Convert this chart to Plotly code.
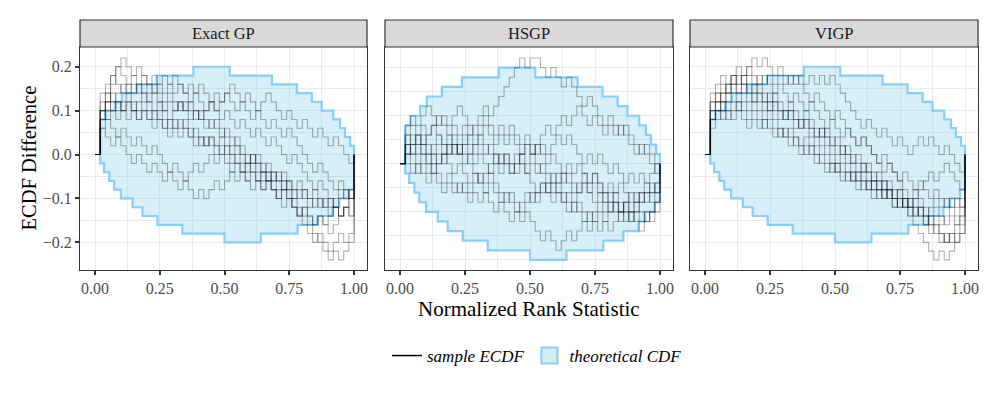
import plotly.graph_objects as go
from plotly.subplots import make_subplots

panels = ["Exact GP", "HSGP", "VIGP"]
step = 1 / 50  # rank bins; ECDF difference moves in steps of 1/50

# sample ECDF differences, in units of `step`, one value per rank bin
exact_gp = [
    [0,4,6,8,10,11,10,9,10,9,8,9,8,7,8,7,8,7,6,7,6,5,6,5,4,5,4,3,4,3,2,3,2,1,2,1,0,-1,0,-1,-2,-3,-4,-3,-4,-5,-6,-7,-6,-7],
    [0,5,7,9,10,9,8,9,8,9,8,7,8,9,8,9,8,7,8,7,8,7,6,7,6,7,8,7,6,7,6,5,6,7,6,5,4,5,4,3,4,3,2,3,2,1,2,1,0,-1],
    [0,5,6,5,6,5,4,5,4,5,4,5,4,3,4,3,4,3,2,3,2,1,2,1,2,1,0,1,0,-1,0,-1,-2,-1,-2,-3,-2,-3,-4,-3,-4,-5,-4,-5,-6,-5,-6,-5,-4,-5],
    [0,3,2,1,2,1,0,-1,0,-1,-2,-1,-2,-3,-2,-3,-4,-3,-4,-5,-4,-5,-4,-3,-4,-3,-2,-3,-2,-3,-4,-3,-4,-3,-4,-5,-6,-5,-6,-7,-6,-7,-8,-7,-8,-7,-6,-7,-6,-5],
    [0,6,7,6,7,8,7,8,7,8,7,8,7,6,7,6,5,6,5,4,5,4,3,4,3,2,1,2,1,0,-1,0,-1,-2,-3,-2,-3,-4,-5,-6,-7,-8,-9,-10,-11,-12,-11,-12,-11,-10],
    [0,5,6,7,6,5,6,5,6,7,6,5,6,5,4,5,6,5,6,5,4,5,6,5,6,7,6,5,6,5,4,5,4,3,4,3,2,3,2,1,0,-1,-2,-1,-2,-3,-4,-3,-4,-5],
    [0,3,4,3,2,3,2,1,2,1,0,1,0,-1,-2,-1,-2,-3,-2,-1,-2,-1,0,-1,0,-1,-2,-1,-2,-3,-2,-3,-4,-3,-4,-5,-4,-5,-6,-7,-8,-9,-10,-9,-10,-11,-10,-9,-10,-9],
    [0,5,4,5,4,5,6,5,4,5,4,3,4,3,2,3,2,3,2,1,2,1,2,1,0,1,0,-1,-2,-1,-2,-3,-2,-3,-4,-5,-4,-5,-6,-7,-6,-7,-8,-7,-8,-9,-8,-7,-6,-5],
    [0,7,8,9,8,7,8,7,8,7,6,7,6,5,6,5,6,5,4,5,4,3,4,3,2,3,2,1,0,-1,0,-1,-2,-3,-2,-3,-4,-3,-4,-5,-4,-5,-6,-5,-6,-7,-6,-7,-6,-7],
    [0,4,5,6,5,6,7,6,5,6,5,4,5,4,3,4,3,4,3,2,1,2,1,0,1,0,-1,0,-1,-2,-1,-2,-3,-2,-3,-4,-3,-4,-5,-4,-5,-6,-5,-6,-5,-6,-5,-4,-5,-4],
]
hsgp = [
    [0,1,2,1,2,1,0,1,0,1,2,1,2,3,4,5,6,5,6,7,8,9,10,11,10,11,11,10,9,10,9,8,9,8,7,6,7,6,5,4,5,4,3,4,3,2,1,2,1,0],
    [0,0,-1,0,-1,-2,-1,-2,-3,-2,-3,-2,-3,-4,-3,-4,-3,-4,-5,-4,-5,-6,-5,-6,-5,-6,-7,-8,-7,-8,-9,-8,-7,-8,-7,-6,-7,-6,-5,-6,-5,-4,-5,-4,-5,-4,-3,-4,-3,-2],
    [0,3,4,3,4,3,4,5,4,3,4,3,4,3,2,3,4,3,2,3,2,3,2,1,2,1,2,1,0,1,0,-1,0,-1,0,-1,-2,-1,-2,-3,-2,-3,-2,-3,-4,-3,-4,-3,-2,-3],
    [0,2,1,2,1,0,1,2,1,2,3,2,3,2,1,2,1,2,1,0,1,0,1,0,-1,0,-1,0,-1,-2,-1,-2,-1,-2,-3,-2,-3,-4,-3,-4,-3,-4,-5,-4,-5,-4,-5,-6,-5,-4],
    [0,1,0,-1,0,-1,0,-1,-2,-1,-2,-3,-2,-3,-2,-1,-2,-1,-2,-3,-4,-3,-4,-5,-4,-3,-4,-3,-2,-3,-2,-3,-4,-5,-4,-5,-6,-5,-4,-5,-4,-5,-6,-5,-6,-5,-4,-3,-4,-3],
    [0,4,5,4,5,6,5,4,5,4,5,6,5,4,3,4,5,4,3,4,3,4,3,2,3,2,1,2,1,2,3,2,3,2,1,0,1,0,1,0,-1,0,-1,-2,-1,-2,-1,-2,-1,0],
    [0,2,3,2,3,2,1,0,1,0,-1,0,-1,-2,-1,-2,-1,0,1,0,1,0,-1,0,-1,-2,-3,-2,-3,-4,-3,-4,-5,-4,-5,-6,-5,-6,-7,-6,-7,-6,-5,-6,-5,-6,-7,-6,-5,-4],
    [0,3,2,3,2,1,2,3,2,3,2,1,2,1,2,3,2,1,0,1,0,-1,0,1,0,1,0,-1,-2,-1,-2,-1,-2,-3,-2,-1,-2,-1,-2,-3,-4,-3,-4,-5,-6,-5,-6,-5,-6,-5],
    [0,1,2,3,2,3,4,3,2,1,2,1,0,1,0,1,0,-1,0,-1,0,-1,0,1,2,1,2,3,4,3,4,5,4,5,6,5,4,5,4,3,4,3,4,3,2,1,2,1,0,-1],
    [0,2,1,0,1,0,-1,0,1,2,1,2,1,0,-1,-2,-3,-2,-3,-4,-3,-4,-5,-4,-3,-4,-3,-2,-3,-2,-3,-4,-3,-4,-3,-2,-3,-2,-3,-4,-5,-4,-5,-4,-3,-4,-3,-2,-3,-2],
]
vigp = [
    [0,5,6,7,8,9,10,9,10,11,10,11,10,9,10,9,8,9,8,7,6,7,6,5,4,5,4,3,2,1,2,1,0,-1,0,-1,-2,-3,-2,-3,-4,-3,-4,-5,-4,-5,-6,-5,-6,-5],
    [0,4,5,6,7,8,7,8,9,8,9,8,9,8,9,8,9,8,9,8,9,8,9,8,9,8,7,6,5,4,3,4,3,2,3,2,1,2,1,0,1,2,1,2,1,0,1,0,-1,-2],
    [0,6,7,8,7,8,7,8,7,6,7,6,5,6,5,4,5,4,3,4,3,2,3,2,1,2,1,0,-1,0,-1,-2,-3,-2,-3,-4,-5,-4,-5,-6,-5,-6,-7,-6,-5,-6,-5,-6,-5,-6],
    [0,4,5,6,5,6,5,6,5,6,5,4,5,4,3,2,3,2,1,2,1,0,1,0,-1,-2,-1,-2,-3,-2,-3,-4,-3,-4,-5,-4,-5,-6,-5,-6,-7,-6,-7,-8,-7,-8,-7,-6,-7,-6],
    [0,7,8,9,8,9,8,9,8,7,8,7,6,7,6,5,6,5,4,5,4,3,2,3,2,1,0,1,0,-1,-2,-1,-2,-3,-4,-3,-4,-5,-6,-7,-8,-9,-10,-11,-12,-11,-12,-11,-10,-9],
    [0,5,6,5,6,7,6,7,6,7,6,5,6,5,4,5,4,3,4,3,2,1,2,1,0,-1,0,-1,-2,-3,-2,-3,-4,-3,-4,-5,-6,-5,-6,-7,-6,-7,-8,-7,-8,-9,-10,-9,-8,-7],
    [0,3,4,5,4,5,6,5,4,5,4,3,4,3,2,3,2,1,0,1,0,-1,0,-1,-2,-1,-2,-3,-2,-3,-4,-3,-4,-5,-4,-5,-6,-5,-6,-5,-6,-7,-8,-9,-8,-9,-10,-9,-10,-9],
    [0,5,6,7,8,9,8,9,10,9,8,9,8,7,8,7,6,7,6,5,6,5,4,3,4,3,2,3,2,1,2,1,0,-1,-2,-1,-2,-3,-4,-5,-4,-5,-6,-7,-6,-7,-8,-7,-8,-7],
    [0,4,5,4,5,4,5,4,3,4,3,4,3,2,3,2,1,2,1,0,1,0,-1,-2,-1,-2,-3,-2,-3,-4,-3,-4,-5,-4,-5,-4,-5,-6,-5,-6,-5,-4,-3,-2,-3,-2,-1,-2,-3,-4],
    [0,6,7,6,7,8,9,8,7,8,7,6,7,6,5,4,5,4,3,4,3,2,3,2,1,0,1,0,-1,-2,-1,-2,-3,-4,-3,-4,-5,-4,-5,-6,-7,-6,-7,-8,-9,-10,-9,-10,-9,-8],
]

# theoretical 95% band: breakpoints and levels
band_upper_x = [0.02, 0.04, 0.077, 0.103, 0.161, 0.238, 0.38, 0.52, 0.683, 0.779, 0.837, 0.875, 0.92, 0.946, 0.965, 0.985, 1.0]
band_upper = [0.08, 0.10, 0.12, 0.14, 0.16, 0.18, 0.20, 0.18, 0.16, 0.14, 0.12, 0.10, 0.08, 0.06, 0.04, 0.02]
band_lower_x = [0.02, 0.035, 0.055, 0.074, 0.10, 0.145, 0.183, 0.241, 0.337, 0.50, 0.64, 0.782, 0.859, 0.917, 0.943, 0.98, 1.0]
band_lower = [-0.02, -0.04, -0.06, -0.08, -0.10, -0.12, -0.14, -0.16, -0.18, -0.20, -0.18, -0.16, -0.14, -0.12, -0.10, -0.08]

y_ranges = [[-0.263, 0.245], [-0.221, 0.243], [-0.263, 0.245]]

FONT = "Liberation Serif"
BAND_LINE = "#87cefa"
BAND_FILL = "rgba(135,206,235,0.33)"

# the page body adds an 8px margin, so the figure is 980x382 inside the 996x398 window
W, H = 980, 382


def band_polygon():
    xs, ys = [], []
    for i, v in enumerate(band_upper):
        xs += [band_upper_x[i], band_upper_x[i + 1]]
        ys += [v, v]
    for i in reversed(range(len(band_lower))):
        xs += [band_lower_x[i + 1], band_lower_x[i]]
        ys += [band_lower[i], band_lower[i]]
    return xs + [xs[0]], ys + [ys[0]]


fig = make_subplots(rows=1, cols=3, horizontal_spacing=18 / 898)
# panel plot areas are 287px wide with 18px gaps
domains = [[0, 287 / 898], [305 / 898, 593 / 898], [610 / 898, 1]]

bx, by = band_polygon()
for c, samples in enumerate([exact_gp, hsgp, vigp], start=1):
    fig.add_trace(go.Scatter(x=bx, y=by, mode="lines", fill="toself", fillcolor=BAND_FILL,
                             line=dict(color=BAND_LINE, width=2.2), showlegend=False,
                             hoverinfo="skip"), row=1, col=c)
    for v in samples:
        xs = [k * step for k in range(len(v))] + [1.0]
        ys = [val * step for val in v] + [0]
        fig.add_trace(go.Scatter(x=xs, y=ys, mode="lines", line_shape="hv",
                                 line=dict(color="rgba(0,0,0,0.3)", width=1.1),
                                 showlegend=False, hoverinfo="skip"), row=1, col=c)

# legend entries
fig.add_trace(go.Scatter(x=[None], y=[None], mode="lines", line=dict(color="black", width=1.5),
                         name="<i>sample ECDF</i>"), row=1, col=1)
fig.add_trace(go.Scatter(x=[None], y=[None], mode="markers",
                         marker=dict(symbol="square", size=16, color="#d6ecf7",
                                     line=dict(color=BAND_LINE, width=2)),
                         name="<i>theoretical CDF</i>"), row=1, col=1)

grid = "#ebebeb"
for c in range(1, 4):
    fig.update_xaxes(range=[-0.058, 1.05], tickvals=[0, 0.25, 0.5, 0.75, 1],
                     ticktext=["0.00", "0.25", "0.50", "0.75", "1.00"],
                     ticks="outside", ticklen=4, tickwidth=1.5, tickcolor="#333333",
                     tickfont=dict(family=FONT, size=16, color="#4d4d4d"),
                     showgrid=True, gridcolor=grid, gridwidth=1.4,
                     minor=dict(tickvals=[0.125, 0.375, 0.625, 0.875], showgrid=True,
                                gridcolor=grid, gridwidth=0.7, ticks=""),
                     showline=True, mirror=True, linecolor="#333333", linewidth=1.2,
                     zeroline=False, automargin=False, domain=domains[c - 1], row=1, col=c)
    fig.update_yaxes(range=y_ranges[c - 1], tickvals=[-0.2, -0.1, 0, 0.1, 0.2],
                     ticktext=["\u22120.2", "\u22120.1", "0.0", "0.1", "0.2"],
                     showticklabels=(c == 1), ticks="outside" if c == 1 else "",
                     ticklen=4, tickwidth=1.5, tickcolor="#333333",
                     tickfont=dict(family=FONT, size=16, color="#4d4d4d"),
                     showgrid=True, gridcolor=grid, gridwidth=1.4,
                     minor=dict(tickvals=[-0.15, -0.05, 0.05, 0.15], showgrid=True,
                                gridcolor=grid, gridwidth=0.7, ticks=""),
                     showline=True, mirror=True, linecolor="#333333", linewidth=1.2,
                     zeroline=False, automargin=False, row=1, col=c)

# facet strips
strip_top = 1 + 27 / 223
for c, name in enumerate(panels):
    ax = "x" if c == 0 else f"x{c + 1}"
    fig.add_shape(type="rect", xref=f"{ax} domain", yref="paper", x0=0, x1=1, y0=1, y1=strip_top,
                  fillcolor="#d9d9d9", line=dict(color="#333333", width=1.2))
    fig.add_annotation(xref=f"{ax} domain", yref="paper", x=0.5, y=(1 + strip_top) / 2,
                       xanchor="center", yanchor="middle",
                       text=name, showarrow=False, font=dict(family=FONT, size=16.5, color="#1a1a1a"))

fig.add_annotation(xref="paper", yref="paper", x=0.5, y=-39 / 223, xanchor="center", yanchor="middle",
                   text="Normalized Rank Statistic", showarrow=False,
                   font=dict(family=FONT, size=21, color="black"))
fig.add_annotation(xref="paper", yref="paper", x=-52 / 898, y=0.5, xanchor="center", yanchor="middle",
                   text="ECDF Difference", textangle=-90, showarrow=False,
                   font=dict(family=FONT, size=20.5, color="black"))

fig.update_layout(
    template="none",
    width=W, height=H,
    margin=dict(l=72, r=10, t=39, b=120, autoexpand=False),
    plot_bgcolor="white", paper_bgcolor="white",
    legend=dict(orientation="h", xref="container", yref="container", x=529 / W, xanchor="center",
                y=(H - 348) / H, yanchor="middle",
                font=dict(family=FONT, size=17, color="black"), itemwidth=30, bgcolor="rgba(0,0,0,0)"),
    showlegend=True,
)

fig.write_html("out.html")
